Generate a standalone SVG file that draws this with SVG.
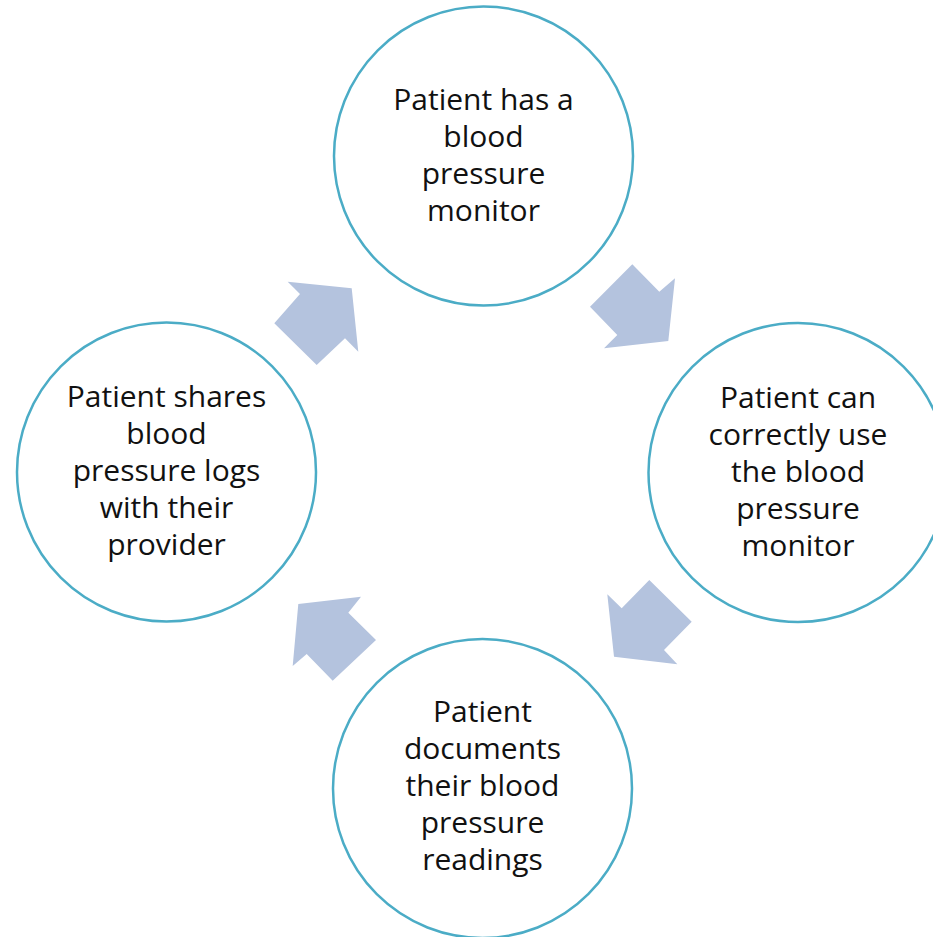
<svg xmlns="http://www.w3.org/2000/svg" width="933" height="937" viewBox="0 0 933 937">
  <style>
    .node circle { fill: #ffffff; stroke: #4bacc6; stroke-width: 2.5; }
    .node text { font-family: "Open Sans", "Noto Sans", sans-serif; font-size: 30px; fill: #111111; text-anchor: middle; }
    .arrow { fill: #b4c3de; }
  </style>
  <rect width="933" height="937" fill="#ffffff"/>

  <!-- cycle arrows between the steps -->
  <g id="connectors">
    <polygon class="arrow" points="590,306.7 632.3,264.3 659.3,291.7 675,278.3 668.3,341 604,348.3 617.3,335"/>
    <polygon class="arrow" points="607.3,594.3 621.7,608.3 649.3,580 691.7,621.7 664,650 677.3,664.3 614,656.7"/>
    <polygon class="arrow" points="298.3,604 361,596.7 348.3,612.7 376,640 332.7,680.7 306.7,654 292.7,666"/>
    <polygon class="arrow" points="287.7,281.7 351.7,288.3 358.3,351.7 345,338.3 316.7,365 274.3,323.3 300,294"/>
  </g>

  <g id="step-has-monitor" class="node">
    <circle cx="483.5" cy="156" r="149.5"/>
    <text x="483.5" y="110">Patient has a</text>
    <text x="483.5" y="147">blood</text>
    <text x="483.5" y="184">pressure</text>
    <text x="483.5" y="221">monitor</text>
  </g>

  <g id="step-correct-use" class="node">
    <circle cx="798" cy="472.5" r="149.5"/>
    <text x="798" y="408">Patient can</text>
    <text x="798" y="445">correctly use</text>
    <text x="798" y="482">the blood</text>
    <text x="798" y="519">pressure</text>
    <text x="798" y="556">monitor</text>
  </g>

  <g id="step-documents" class="node">
    <circle cx="482.5" cy="788.5" r="149.5"/>
    <text x="482.5" y="722">Patient</text>
    <text x="482.5" y="759">documents</text>
    <text x="482.5" y="796">their blood</text>
    <text x="482.5" y="833">pressure</text>
    <text x="482.5" y="870">readings</text>
  </g>

  <g id="step-shares-logs" class="node">
    <circle cx="166.5" cy="472" r="149.5"/>
    <text x="166.5" y="407">Patient shares</text>
    <text x="166.5" y="444">blood</text>
    <text x="166.5" y="481">pressure logs</text>
    <text x="166.5" y="518">with their</text>
    <text x="166.5" y="555">provider</text>
  </g>
</svg>
